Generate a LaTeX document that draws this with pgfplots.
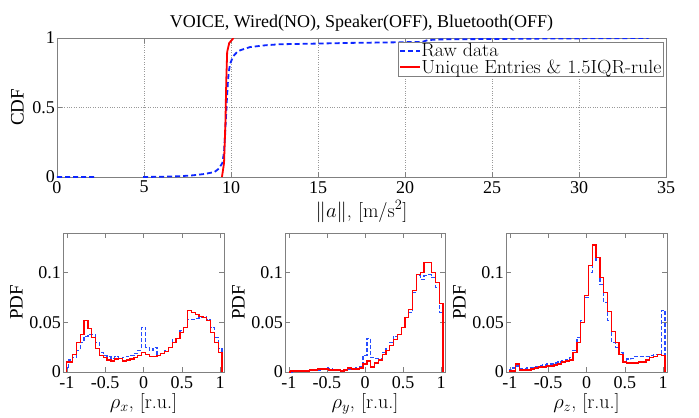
\documentclass[border=0pt]{standalone}
\usepackage{fontspec}
\usepackage{graphicx}
\usepackage{pgfplots}
\usepackage{pgfplotstable}
\pgfplotsset{compat=1.18}
\newfontfamily\tms{Liberation Serif}
\newcommand\tickfont{\tms\fontsize{18bp}{18bp}\selectfont}
\newcommand\labfont{\fontsize{20bp}{20bp}\selectfont}
\newcommand\legfont{\fontsize{19bp}{19bp}\selectfont}
\newcommand\tlabfont{\tms\fontsize{19bp}{19bp}\selectfont}
\newcommand\titfont{\tms\fontsize{18bp}{18bp}\selectfont}
\newcommand\wide[1]{\scalebox{1.05}[1]{#1}}
\definecolor{mblue}{rgb}{0.05,0.15,1}
\definecolor{hblue}{rgb}{0.15,0.3,1}
\definecolor{mred}{rgb}{1,0,0}

% x = left edge of bin, red, blue
\pgfplotstableread{
x red blue
-1 0 0
-1 0.010 0.004
-0.975 0.010 0.012
-0.925 0.018 0.015
-0.875 0.030 0.022
-0.825 0.038 0.030
-0.775 0.052 0.036
-0.725 0.044 0.038
-0.675 0.035 0.038
-0.625 0.024 0.030
-0.575 0.017 0.020
-0.525 0.015 0.017
-0.475 0.012 0.016
-0.425 0.011 0.014
-0.375 0.013 0.016
-0.325 0.014 0.014
-0.275 0.011 0.015
-0.225 0.012 0.016
-0.175 0.013 0.017
-0.125 0.015 0.019
-0.075 0.017 0.022
-0.025 0.020 0.045
0.025 0.018 0.025
0.075 0.016 0.022
0.125 0.016 0.025
0.175 0.017 0.018
0.225 0.019 0.019
0.275 0.021 0.022
0.325 0.025 0.025
0.375 0.030 0.033
0.425 0.034 0.034
0.475 0.040 0.042
0.525 0.045 0.045
0.575 0.062 0.053
0.625 0.060 0.053
0.675 0.058 0.054
0.725 0.056 0.055
0.775 0.055 0.056
0.825 0.052 0.053
0.875 0.040 0.045
0.925 0.030 0.035
0.975 0.020 0.024
1.025 0 0
}\rhox

\pgfplotstableread{
x red blue
-1 0 0
-1 0.000 0.000
-0.975 0.001 0.000
-0.925 0.001 0.001
-0.875 0.001 0.001
-0.825 0.001 0.001
-0.775 0.001 0.001
-0.725 0.002 0.002
-0.675 0.002 0.002
-0.625 0.003 0.002
-0.575 0.003 0.003
-0.525 0.003 0.004
-0.475 0.002 0.003
-0.425 0.002 0.002
-0.375 0.002 0.002
-0.325 0.001 0.002
-0.275 0.002 0.002
-0.225 0.004 0.003
-0.175 0.003 0.003
-0.125 0.003 0.004
-0.075 0.004 0.005
-0.025 0.008 0.017
0.025 0.011 0.034
0.075 0.005 0.015
0.125 0.009 0.014
0.175 0.012 0.014
0.225 0.018 0.020
0.275 0.022 0.024
0.325 0.027 0.030
0.375 0.033 0.036
0.425 0.038 0.038
0.475 0.045 0.045
0.525 0.055 0.055
0.575 0.063 0.060
0.625 0.082 0.080
0.675 0.098 0.097
0.725 0.100 0.093
0.775 0.110 0.097
0.825 0.110 0.098
0.875 0.100 0.095
0.925 0.090 0.085
0.975 0.069 0.060
1.025 0 0
}\rhoy

\pgfplotstableread{
x red blue
-1 0 0
-1 0.001 0.002
-0.975 0.001 0.004
-0.925 0.008 0.006
-0.875 0.002 0.003
-0.825 0.002 0.003
-0.775 0.002 0.004
-0.725 0.003 0.004
-0.675 0.004 0.005
-0.625 0.005 0.006
-0.575 0.005 0.007
-0.525 0.006 0.008
-0.475 0.006 0.008
-0.425 0.007 0.009
-0.375 0.008 0.010
-0.325 0.010 0.011
-0.275 0.011 0.012
-0.225 0.012 0.015
-0.175 0.020 0.022
-0.125 0.030 0.035
-0.075 0.050 0.052
-0.025 0.077 0.075
0.025 0.107 0.100
0.075 0.128 0.120
0.125 0.115 0.112
0.175 0.095 0.088
0.225 0.080 0.070
0.275 0.061 0.052
0.325 0.041 0.030
0.375 0.030 0.025
0.425 0.018 0.020
0.475 0.010 0.012
0.525 0.009 0.013
0.575 0.009 0.014
0.625 0.009 0.016
0.675 0.010 0.016
0.725 0.010 0.016
0.775 0.012 0.016
0.825 0.015 0.017
0.875 0.016 0.018
0.925 0.018 0.018
0.975 0.017 0.062
1.025 0 0
}\rhoz

\pgfplotsset{
  mlab/.style={
    scale only axis,
    axis line style={black!50},
    tick style={black!50, line width=0.6bp},
    tick align=inside,
    major tick length=5bp,
    /pgf/number format/assume math mode=true,
    tick label style={font=\tickfont},
    xticklabel style={inner sep=2bp, yshift=-2bp},
    yticklabel style={inner sep=2bp},
    label style={font=\labfont},
    xlabel style={inner sep=3bp},
  },
  pdfax/.style={
    mlab,
    width=161bp, height=139bp,
    anchor=south west,
    xmin=-1.05, xmax=1.05, ymin=0, ymax=0.14,
    xtick={-1,-0.5,0,0.5,1},
    xticklabels={-1,-0.5,0,0.5,1},
    ytick={0,0.05,0.1},
    yticklabels={0,0.05,0.1},
    ylabel={\tlabfont PDF},
    ylabel style={yshift=1bp},
  },
  bluehist/.style={draw=hblue, line width=1.2bp, dash pattern=on 4bp off 2bp, const plot mark left},
  redhist/.style={draw=mred, line width=1.2bp, const plot mark left},
}

\begin{document}
\begin{tikzpicture}
\path[use as bounding box] (0,0) rectangle (699bp,-418bp);

\begin{axis}[mlab,
  at={(57bp,-177bp)}, anchor=south west,
  width=609bp, height=139bp,
  xmin=0, xmax=35, ymin=0, ymax=1,
  xtick={0,5,...,35}, ytick={0,0.5,1},
  grid=major, major grid style={dotted, black!40, line width=0.6bp},
  unbounded coords=jump,
  title={VOICE, Wired(NO), Speaker(OFF), Bluetooth(OFF)},
  title style={font=\titfont, yshift=-3bp},
  xlabel={$\|a\|$, [m/s$^2$]},
  xlabel style={yshift=-2bp},
  ylabel={\tlabfont CDF},
  ylabel style={yshift=3bp},
  legend style={at={(0.995,0.971)}, anchor=north east, font=\legfont,
    draw=black!50, inner sep=1bp, nodes={inner sep=0.3bp}, row sep=0.8bp},
  legend cell align=left,
  legend image code/.code={\draw[#1] (0bp,0bp) -- (20bp,0bp);},
]
\addplot[draw=mblue, line width=1.8bp, dash pattern=on 5bp off 3bp] coordinates {
(0,0) (2.2,0) (3.5,nan) (4.95,0) (6,0.002) (7,0.005) (7.8,0.012) (8.5,0.022)
(9.05,0.036) (9.3,0.06) (9.5,0.1) (9.6,0.18) (9.66,0.3) (9.72,0.45) (9.76,0.55)
(9.82,0.68) (9.87,0.755) (9.95,0.815) (10.13,0.87) (10.4,0.905) (10.6,0.915)
(11.1,0.935) (12,0.948) (12.8,0.955) (15,0.96) (17,0.965) (19,0.968) (21,0.972)
(21.3,0.985) (22,0.99) (25,0.993) (28,0.996) (31,0.998) (34,1)
};
\addlegendentry{\wide{Raw data}}
\addplot[draw=mred, line width=1.8bp] coordinates {
(9.48,0) (9.6,0.1) (9.68,0.4) (9.73,0.7) (9.78,0.9) (9.9,0.965) (10.15,1)
};
\addlegendentry{\wide{Unique Entries \& 1.5IQR-rule}}
\end{axis}

\begin{axis}[pdfax, at={(63bp,-372bp)}, xlabel={$\rho_x$, [r.u.]}]
\addplot[bluehist] table[x=x, y=blue] {\rhox};
\addplot[redhist] table[x=x, y=red] {\rhox};
\end{axis}

\begin{axis}[pdfax, at={(285bp,-372bp)}, width=160bp, xlabel={$\rho_y$, [r.u.]}]
\addplot[bluehist] table[x=x, y=blue] {\rhoy};
\addplot[redhist] table[x=x, y=red] {\rhoy};
\end{axis}

\begin{axis}[pdfax, at={(506bp,-372bp)}, xlabel={$\rho_z$, [r.u.]}]
\addplot[bluehist] table[x=x, y=blue] {\rhoz};
\addplot[redhist] table[x=x, y=red] {\rhoz};
\end{axis}
\end{tikzpicture}
\end{document}
